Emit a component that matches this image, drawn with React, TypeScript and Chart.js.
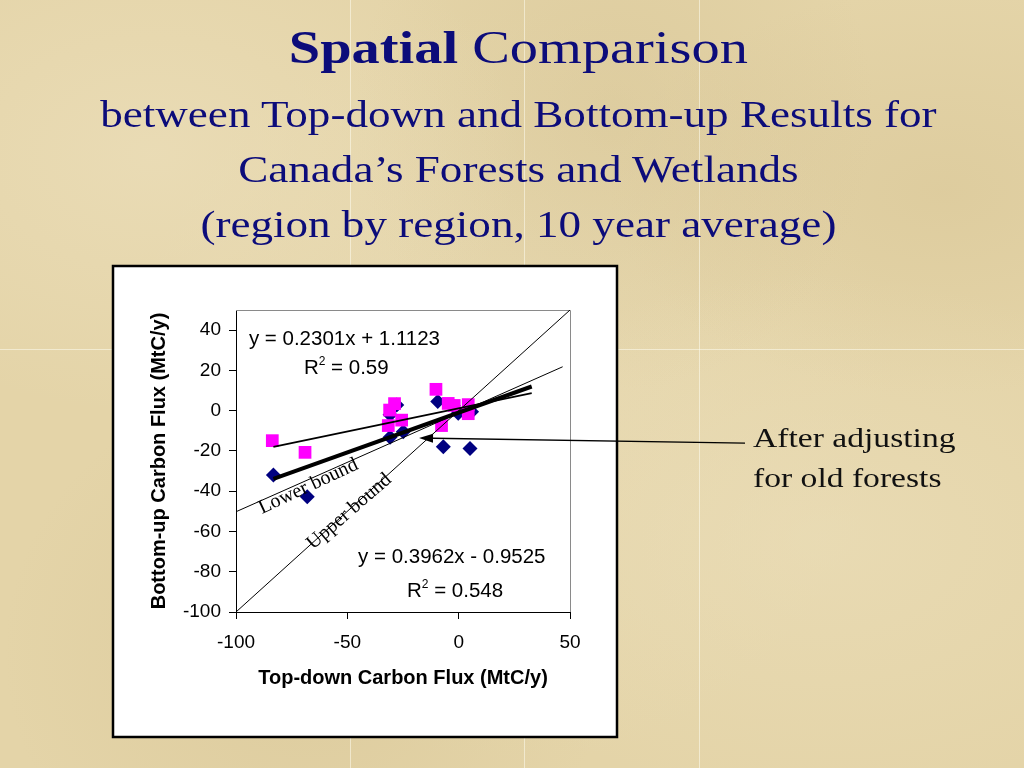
import React, { useEffect, useRef } from "react";
import { Chart, registerables } from "chart.js";

Chart.register(...registerables);

// ---- data ----
const xTicks = [-100, -50, 0, 50];
const yTicks = [-100, -80, -60, -40, -20, 0, 20, 40];

const pinkX = [-83.7, -69.0, -31.0, -28.8, -31.6, -25.6, -10.2, -7.7, -4.7, -2.0, 4.3, 4.3];
const pinkY = [-14.9, -20.7, 0.3, 3.5, -7.4, -4.7, 10.6, -7.4, 3.6, 2.6, 3.0, -1.5];

const blueX = [-83.2, -68.0, -30.8, -24.9, -30.8, -27.8, -9.4, -6.9, 5.1, -0.2, 5.8, -2.4];
const blueY = [-32.0, -42.7, -13.2, -10.5, -2.0, 2.8, 4.6, -17.9, -18.8, -1.3, -0.5, 2.4];

const upperX = [-100, 50];
const upperY = [-100, 50];
const lowerX = [-100, 46.7];
const lowerY = [-50.2, 21.8];
const pinkTrendX = [-83.2, 32.8];
const pinkTrendY = [-18.0, 8.7];
const blueTrendX = [-83.2, 32.8];
const blueTrendY = [-33.9, 12.0];

const eqPink = "y = 0.2301x + 1.1123";
const r2Pink = " = 0.59";
const eqBlue = "y = 0.3962x - 0.9525";
const r2Blue = " = 0.548";

const titleBold = "Spatial";
const titleRest = " Comparison";
const subLines = [
  "between Top-down and Bottom-up Results for",
  "Canada\u2019s Forests and Wetlands",
  "(region by region, 10 year average)",
];
const noteLines = ["After adjusting", "for old forests"];

const zip = (xs: number[], ys: number[]) => xs.map((x, i) => ({ x, y: ys[i] }));

const SANS = '"Liberation Sans", Arial, sans-serif';
const SERIF = '"Liberation Serif", "Times New Roman", serif';
const NAVY = "#0c0c7a";

const decorPlugin = {
  id: "decor",
  beforeDraw(chart: any) {
    const ctx = chart.ctx;
    ctx.save();
    ctx.fillStyle = "#ffffff";
    ctx.fillRect(113, 266, 504, 471);
    ctx.lineWidth = 2.5;
    ctx.strokeStyle = "#000";
    ctx.strokeRect(113, 266, 504, 471);
    ctx.restore();
  },
  beforeDatasetsDraw(chart: any) {
    const { ctx, chartArea: a } = chart;
    ctx.save();
    ctx.strokeStyle = "#8a8a8a";
    ctx.lineWidth = 1;
    ctx.beginPath();
    ctx.moveTo(a.left, a.top + 0.5);
    ctx.lineTo(a.right + 0.5, a.top + 0.5);
    ctx.lineTo(a.right + 0.5, a.bottom);
    ctx.stroke();
    ctx.restore();
  },
  afterDraw(chart: any) {
    const ctx = chart.ctx;
    const xs = chart.scales.x;
    const ys = chart.scales.y;
    const px = (v: number) => xs.getPixelForValue(v);
    const py = (v: number) => ys.getPixelForValue(v);
    ctx.save();
    ctx.fillStyle = "#000";
    ctx.textBaseline = "alphabetic";
    ctx.textAlign = "left";

    // regression equations
    ctx.font = `20.5px ${SANS}`;
    ctx.fillText(eqPink, px(-94.2), py(32.6));
    ctx.fillText(eqBlue, px(-45.2), py(-75.7));
    const drawR2 = (xv: number, yv: number, rest: string) => {
      let x = px(xv);
      const y = py(yv);
      ctx.font = `20.5px ${SANS}`;
      ctx.fillText("R", x, y);
      x += ctx.measureText("R").width;
      ctx.font = `12px ${SANS}`;
      ctx.fillText("2", x, y - 9);
      x += ctx.measureText("2").width;
      ctx.font = `20.5px ${SANS}`;
      ctx.fillText(rest, x, y);
    };
    drawR2(-69.5, 18.2, r2Pink);
    drawR2(-23.2, -92.6, r2Blue);

    // rotated bound labels
    ctx.font = `20px ${SERIF}`;
    ctx.save();
    ctx.translate(px(-88.3), py(-51.3));
    ctx.rotate((-25 * Math.PI) / 180);
    ctx.fillText("Lower bound", 0, 0);
    ctx.restore();
    ctx.save();
    ctx.translate(px(-65.4), py(-69.2));
    ctx.rotate((-41 * Math.PI) / 180);
    ctx.fillText("Upper bound", 0, 0);
    ctx.restore();

    // arrow
    const tx = px(-17.8), ty = py(-13.6);
    const sx = px(128.6), sy = py(-16.1);
    const ang = Math.atan2(ty - sy, tx - sx);
    const hl = 14, hw = 4.5;
    const bx = tx - Math.cos(ang) * hl, by = ty - Math.sin(ang) * hl;
    ctx.strokeStyle = "#000";
    ctx.lineWidth = 1.3;
    ctx.beginPath();
    ctx.moveTo(sx, sy);
    ctx.lineTo(bx, by);
    ctx.stroke();
    ctx.beginPath();
    ctx.moveTo(tx, ty);
    ctx.lineTo(bx - Math.sin(ang) * hw, by + Math.cos(ang) * hw);
    ctx.lineTo(bx + Math.sin(ang) * hw, by - Math.cos(ang) * hw);
    ctx.closePath();
    ctx.fill();
    ctx.restore();
  },
};

const lineDs = (xs: number[], ys: number[], w: number) => ({
  type: "scatter" as const,
  data: zip(xs, ys),
  showLine: true,
  borderColor: "#000",
  backgroundColor: "#000",
  borderWidth: w,
  pointRadius: 0,
  order: 0,
});

export default function App() {
  const ref = useRef<HTMLCanvasElement>(null);
  useEffect(() => {
    document.body.style.margin = "0";
    const chart = new Chart(ref.current as HTMLCanvasElement, {
      type: "scatter",
      data: {
        datasets: [
          {
            data: zip(pinkX, pinkY),
            pointStyle: "rect",
            pointRadius: 9,
            backgroundColor: "#ff00ff",
            borderColor: "#ff00ff",
            borderWidth: 0,
            order: 1,
          } as any,
          {
            data: zip(blueX, blueY),
            pointStyle: "rectRot",
            pointRadius: 7.5,
            backgroundColor: "#000080",
            borderColor: "#000080",
            borderWidth: 0,
            order: 2,
          } as any,
          lineDs(upperX, upperY, 1),
          lineDs(lowerX, lowerY, 1),
          lineDs(pinkTrendX, pinkTrendY, 1.6),
          lineDs(blueTrendX, blueTrendY, 4),
        ],
      },
      options: {
        responsive: false,
        animation: false,
        events: [],
        layout: { padding: { left: 143, right: 454, top: 310, bottom: 74 } },
        plugins: { legend: { display: false }, tooltip: { enabled: false } },
        scales: {
          x: {
            type: "linear",
            min: -100,
            max: 50,
            afterBuildTicks: (s: any) => {
              s.ticks = xTicks.map((v) => ({ value: v }));
            },
            afterFit: (s: any) => {
              s.height = 82;
            },
            grid: { drawOnChartArea: false, drawTicks: true, tickLength: 7, color: "#000" },
            border: { display: true, color: "#000", width: 1 },
            ticks: { color: "#000", font: { family: SANS, size: 19 }, padding: 12, maxRotation: 0 },
            title: {
              display: true,
              text: "Top-down Carbon Flux (MtC/y)",
              color: "#000",
              font: { family: SANS, size: 20, weight: "bold" },
              padding: { top: 4, bottom: 4 },
            },
          },
          y: {
            type: "linear",
            min: -100,
            max: 50,
            afterBuildTicks: (s: any) => {
              s.ticks = yTicks.map((v) => ({ value: v }));
            },
            afterFit: (s: any) => {
              s.width = 93;
            },
            grid: { drawOnChartArea: false, drawTicks: true, tickLength: 7, color: "#000" },
            border: { display: true, color: "#000", width: 1 },
            ticks: { color: "#000", font: { family: SANS, size: 19 }, padding: 8 },
            title: {
              display: true,
              text: "Bottom-up Carbon Flux (MtC/y)",
              color: "#000",
              font: { family: SANS, size: 20, weight: "bold" },
              padding: { top: 4, bottom: 4 },
            },
          },
        },
      },
      plugins: [decorPlugin],
    } as any);
    return () => chart.destroy();
  }, []);

  const seamV = [350, 524, 699];
  const seamH = [349];

  const bg =
    "radial-gradient(ellipse at 15% 20%, rgba(240,228,196,0.45), rgba(240,228,196,0) 30%)," +
    "radial-gradient(ellipse at 80% 70%, rgba(238,226,192,0.45), rgba(238,226,192,0) 35%)," +
    "radial-gradient(ellipse at 60% 15%, rgba(205,185,135,0.3), rgba(205,185,135,0) 30%)," +
    "radial-gradient(ellipse at 30% 85%, rgba(205,185,135,0.3), rgba(205,185,135,0) 30%)," +
    "radial-gradient(ellipse at 92% 25%, rgba(210,190,140,0.35), rgba(210,190,140,0) 25%)," +
    "radial-gradient(circle at 50% 50%, rgba(236,224,190,0.35), rgba(236,224,190,0) 60%)";

  const textCommon: React.CSSProperties = {
    position: "absolute",
    left: 8,
    width: 1024,
    textAlign: "center",
    fontFamily: SERIF,
    color: NAVY,
    whiteSpace: "nowrap",
    transform: "scaleX(1.2)",
    transformOrigin: "520px 0",
  };

  return (
    <div
      style={{
        position: "fixed",
        left: 0,
        top: 0,
        width: 1024,
        height: 768,
        overflow: "hidden",
        backgroundColor: "#e4d4a8",
        backgroundImage: bg,
      }}
    >
      {seamV.map((x) => (
        <div
          key={"v" + x}
          style={{ position: "absolute", left: x, top: 0, width: 1, height: 768, background: "rgba(255,255,245,0.5)" }}
        />
      ))}
      {seamH.map((y) => (
        <div
          key={"h" + y}
          style={{ position: "absolute", left: 0, top: y, width: 1024, height: 1, background: "rgba(255,255,245,0.5)" }}
        />
      ))}
      <canvas
        ref={ref}
        width={1024}
        height={768}
        style={{ position: "absolute", left: 0, top: 0, width: 1024, height: 768 }}
      />
      <div style={{ ...textCommon, top: 23.6, fontSize: 47, lineHeight: "47px" }}>
        <b>{titleBold}</b>
        {titleRest}
      </div>
      {subLines.map((t, i) => (
        <div key={t} style={{ ...textCommon, top: 95.5 + i * 55, fontSize: 37.6, lineHeight: "37.6px" }}>
          {t}
        </div>
      ))}
      {noteLines.map((t, i) => (
        <div
          key={t}
          style={{
            position: "absolute",
            left: 753,
            top: 423.5 + i * 40,
            fontFamily: SERIF,
            fontSize: 28,
            lineHeight: "28px",
            color: "#111",
            whiteSpace: "nowrap",
            transform: "scaleX(1.2)",
            transformOrigin: "0 0",
          }}
        >
          {t}
        </div>
      ))}
    </div>
  );
}
